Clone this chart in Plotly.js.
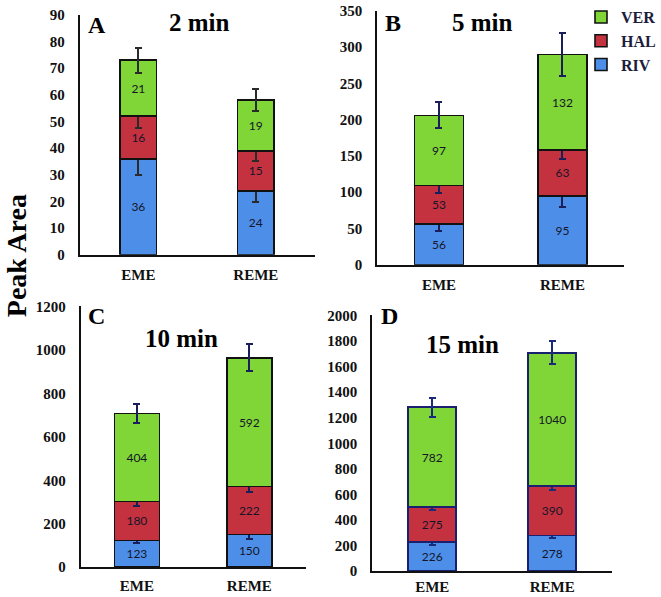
<!DOCTYPE html>
<html><head><meta charset="utf-8">
<script src="https://cdn.plot.ly/plotly-3.0.1.min.js"></script>
<style>html,body{margin:0;padding:0;background:#fff}</style>
</head><body>
<div id="chart" style="width:661px;height:597px"></div>
<script>
const categories = ['EME', 'REME'];
const seriesNames = ['RIV', 'HAL', 'VER'];
// Panel A (2 min)
const rivA = [36, 24],  rivAErr = [6, 4.3];
const halA = [16, 15],  halAErr = [4.3, 4];
const verA = [21, 19],  verAErr = [4.7, 4.2];
// Panel B (5 min)
const rivB = [56, 95],  rivBErr = [10, 15];
const halB = [53, 63],  halBErr = [10, 12.5];
const verB = [97, 132], verBErr = [18, 30];
// Panel C (10 min)
const rivC = [123, 150], rivCErr = [12, 21];
const halC = [180, 222], halCErr = [21, 26];
const verC = [404, 592], verCErr = [43, 61];
// Panel D (15 min)
const rivD = [226, 278], rivDErr = [20, 22];
const halD = [275, 390], halDErr = [26, 35];
const verD = [782, 1040], verDErr = [75, 90];
const panelLetters = ['A', 'B', 'C', 'D'];
const panelTitles = ['2 min', '5 min', '10 min', '15 min'];
const yTitle = 'Peak Area';

const W = 661, H = 597;
const colors = {RIV: '#4d8fe8', HAL: '#c4323f', VER: '#7fd636'};
const serif = 'Liberation Serif, Times New Roman, serif';

const panels = [
  {ax: '', data: [rivA, halA, verA], err: [rivAErr, halAErr, verAErr], width: 0.31, line: '#111', ecol: '#2a2a2a',
   xd: [80, 316], y0: 253, yTop: 12, range: [0, 90], dtick: 10, xso: 5},
  {ax: '2', data: [rivB, halB, verB], err: [rivBErr, halBErr, verBErr], width: 0.4, line: '#111', ecol: '#1a1f5a',
   xd: [379, 627], y0: 263, yTop: 8, range: [0, 350], dtick: 50, xso: 5},
  {ax: '3', data: [rivC, halC, verC], err: [rivCErr, halCErr, verCErr], width: 0.4, line: '#111', ecol: '#1a1f5a',
   xd: [81, 307], y0: 567, yTop: 305, range: [0, 1200], dtick: 200, xso: 4},
  {ax: '4', data: [rivD, halD, verD], err: [rivDErr, halDErr, verDErr], width: 0.4, line: '#1a2070', ecol: '#1a2a7a',
   xd: [374, 615], y0: 571, yTop: 314, range: [0, 2000], dtick: 200, xso: 1}
];

const traces = [];
const layout = {
  width: W, height: H, margin: {l: 0, r: 0, t: 0, b: 0},
  paper_bgcolor: '#fff', plot_bgcolor: 'rgba(0,0,0,0)',
  barmode: 'stack', showlegend: true,
  legend: {x: 584 / W, y: 1.005, xanchor: 'left', yanchor: 'top', traceorder: 'reversed',
           font: {family: serif, size: 16, color: '#1c1c3c', weight: 'bold'}, bgcolor: 'rgba(0,0,0,0)', tracegroupgap: 0},
  annotations: [], font: {family: serif}
};

panels.forEach((p, pi) => {
  p.data.forEach((vals, si) => {
    const name = seriesNames[si];
    traces.push({
      type: 'bar', x: categories, y: vals, name: name,
      xaxis: 'x' + p.ax, yaxis: 'y' + p.ax,
      width: p.width, showlegend: pi === 1,
      marker: {color: colors[name], line: {color: p.line, width: 1.6}},
      text: vals.map(String), textposition: 'inside', insidetextanchor: 'middle',
      textangle: 0, constraintext: 'none',
      textfont: {family: 'Lato, Open Sans, sans-serif', size: 12, color: '#15152a'},
      error_y: {type: 'data', array: p.err[si], visible: true, color: p.ecol, thickness: 2, width: 3.5},
      hoverinfo: 'skip'
    });
  });
  const xa = {
    domain: [p.xd[0] / W, p.xd[1] / W], anchor: 'y' + p.ax, type: 'category', range: [-0.5, 1.5],
    showline: true, linecolor: '#111', linewidth: 2, ticks: '', showgrid: false, zeroline: false,
    tickfont: {family: serif, size: 15, color: '#111', weight: 'bold'}, ticklabelstandoff: p.xso, fixedrange: true
  };
  const ya = {
    domain: [1 - p.y0 / H, 1 - p.yTop / H], anchor: 'x' + p.ax, range: p.range, dtick: p.dtick,
    showline: true, linecolor: '#111', linewidth: 2, ticks: '', showgrid: false, zeroline: false,
    tickfont: {family: serif, size: 15, color: '#111', weight: 'bold'}, ticklabelstandoff: 10, fixedrange: true
  };
  layout['xaxis' + p.ax] = xa;
  layout['yaxis' + p.ax] = ya;
});

const labelPos = [
  {lx: 97, ly: 22, tx: 200, ty: 20},
  {lx: 395, ly: 20, tx: 485, ty: 20},
  {lx: 97, ly: 315, tx: 182, ty: 337},
  {lx: 391, ly: 315, tx: 465, ty: 343}
];
labelPos.forEach((l, i) => {
  layout.annotations.push({xref: 'paper', yref: 'paper', x: l.lx / W, y: 1 - l.ly / H, text: panelLetters[i],
    showarrow: false, xanchor: 'center', yanchor: 'middle', font: {family: serif, size: 24, color: '#000', weight: 'bold'}});
  layout.annotations.push({xref: 'paper', yref: 'paper', x: l.tx / W, y: 1 - l.ty / H, text: panelTitles[i],
    showarrow: false, xanchor: 'center', yanchor: 'middle', font: {family: serif, size: 25, color: '#000', weight: 'bold'}});
});
layout.annotations.push({xref: 'paper', yref: 'paper', x: 0, y: 1 - 254 / H, text: yTitle, textangle: -90,
  showarrow: false, xanchor: 'left', yanchor: 'middle', borderpad: 0, font: {family: serif, size: 28, color: '#000', weight: 'bold'}});

Plotly.newPlot('chart', traces, layout, {displayModeBar: false, staticPlot: true});
</script>
</body></html>
